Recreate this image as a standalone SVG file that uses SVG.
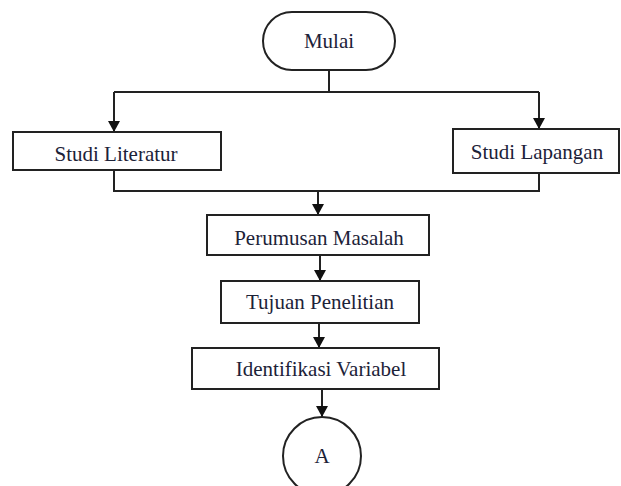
<svg xmlns="http://www.w3.org/2000/svg" width="621" height="486" viewBox="0 0 621 486">
<style>
.box{fill:#fff;stroke:#222;stroke-width:2}
.ln{fill:none;stroke:#222;stroke-width:2}
.t{font-family:"Liberation Serif","Times New Roman",serif;font-size:21px;fill:#1c2238;text-anchor:middle}
</style>
<defs>
<marker id="ah" markerWidth="12" markerHeight="12" refX="11" refY="6" orient="auto" markerUnits="userSpaceOnUse">
<path d="M0,0 L11,6 L0,12 Z" fill="#111"/>
</marker>
</defs>
<rect width="621" height="486" fill="#fff"/>
<g id="connectors">
<path class="ln" d="M329,70 V92"/>
<path class="ln" d="M114,92 H539"/>
<path class="ln" d="M114,92 V132" marker-end="url(#ah)"/>
<path class="ln" d="M539,92 V129" marker-end="url(#ah)"/>
<path class="ln" d="M114,170 V191 H539 V173"/>
<path class="ln" d="M318,191 V215" marker-end="url(#ah)"/>
<path class="ln" d="M320,255 V281" marker-end="url(#ah)"/>
<path class="ln" d="M319,323 V348" marker-end="url(#ah)"/>
<path class="ln" d="M322,389 V417" marker-end="url(#ah)"/>
</g>
<g id="mulai">
<rect class="box" x="263" y="12" width="132" height="58" rx="29" ry="29"/>
<text class="t" x="329" y="48">Mulai</text>
</g>
<g id="studi-literatur">
<rect class="box" x="13" y="132" width="208" height="38"/>
<text class="t" x="116" y="161">Studi Literatur</text>
</g>
<g id="studi-lapangan">
<rect class="box" x="453" y="129" width="166" height="44"/>
<text class="t" x="537" y="159">Studi Lapangan</text>
</g>
<g id="perumusan-masalah">
<rect class="box" x="207" y="215" width="222" height="40"/>
<text class="t" x="319" y="245">Perumusan Masalah</text>
</g>
<g id="tujuan-penelitian">
<rect class="box" x="221" y="281" width="198" height="42"/>
<text class="t" x="320" y="309">Tujuan Penelitian</text>
</g>
<g id="identifikasi-variabel">
<rect class="box" x="192" y="348" width="247" height="41"/>
<text class="t" x="321" y="376">Identifikasi Variabel</text>
</g>
<g id="a">
<circle class="box" cx="322" cy="456" r="39"/>
<text class="t" x="322" y="463">A</text>
</g>
</svg>
